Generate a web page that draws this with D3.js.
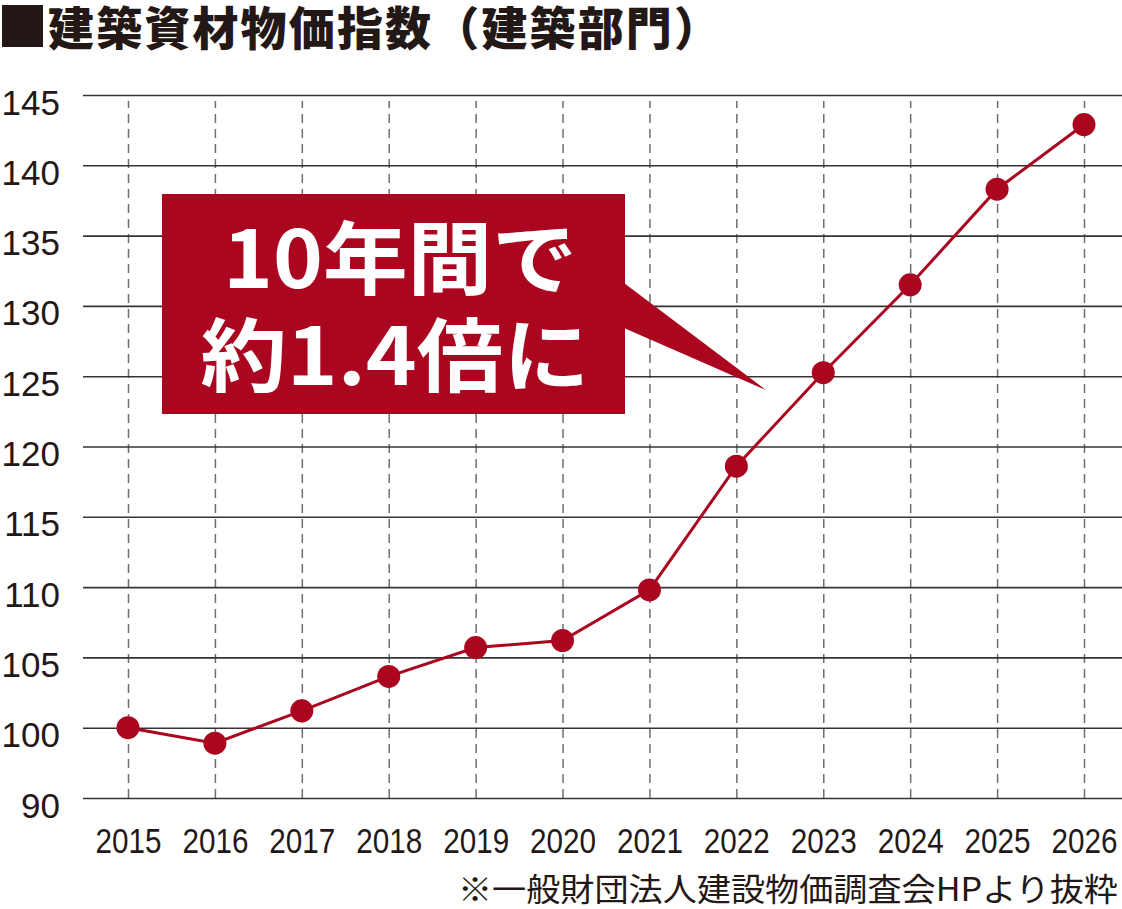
<!DOCTYPE html>
<html>
<head>
<meta charset="utf-8">
<script src="https://cdn.jsdelivr.net/npm/d3@7"></script>
<style>
  html, body { margin: 0; padding: 0; background: #fff; }
  svg { display: block; }
</style>
</head>
<body>
<div id="chart"></div>
<script>
// data
const years = [2015, 2016, 2017, 2018, 2019, 2020, 2021, 2022, 2023, 2024, 2025, 2026];
const index = [100, 98.9, 101.2, 103.65, 105.7, 106.2, 109.8, 118.6, 125.25, 131.5, 138.3, 142.9];
// the axis is broken below 100: the bottom line stands for 90
const yTicks = [95, 100, 105, 110, 115, 120, 125, 130, 135, 140, 145];
const yTickLabels = ['90', '100', '105', '110', '115', '120', '125', '130', '135', '140', '145'];

const titleText = '建築資材物価指数（建築部門）';
const calloutLines = ['10年間で', '約1.4倍に'];
const sourceText = '※一般財団法人建設物価調査会HPより抜粋';

const W = 1122, H = 909;
const red = '#ab0620', ink = '#231815';
const numFont = '"Liberation Sans", Arial, sans-serif';
const jpFont = '"Noto Sans CJK JP", "Noto Sans", sans-serif';

const plot = { left: 83, right: 1122, top: 95, bottom: 798 };

const y = d3.scaleLinear()
  .domain([95, 145])
  .range([plot.bottom, plot.top]);

const x = d3.scaleLinear()
  .domain([2015, 2026])
  .range([128, 1084]);

const svg = d3.select('#chart').append('svg')
  .attr('width', W)
  .attr('height', H);

// title
svg.append('rect')
  .attr('x', 2)
  .attr('y', 5)
  .attr('width', 41)
  .attr('height', 42)
  .attr('fill', ink);
svg.append('text')
  .attr('x', 48)
  .attr('y', 45)
  .attr('font-family', jpFont)
  .attr('font-weight', 900)
  .attr('font-size', 46)
  .attr('fill', ink)
  .attr('textLength', 672)
  .attr('lengthAdjust', 'spacing')
  .text(titleText);

// vertical dashed grid + year labels
const xAxis = svg.append('g')
  .attr('transform', 'translate(0,' + plot.bottom + ')')
  .call(d3.axisBottom(x)
    .tickValues(years)
    .tickFormat(d3.format('d'))
    .tickSize(-(plot.bottom - 101)));
xAxis.select('.domain').remove();
xAxis.selectAll('line')
  .attr('stroke', '#6e6e6e')
  .attr('stroke-width', 1.5)
  .attr('stroke-dasharray', '9,6');
xAxis.selectAll('text')
  .attr('y', 55)
  .attr('dy', 0)
  .attr('fill', ink)
  .attr('font-family', numFont)
  .attr('font-size', 35)
  .attr('textLength', 66)
  .attr('lengthAdjust', 'spacingAndGlyphs');

// horizontal grid + value labels
const yAxis = svg.append('g')
  .attr('transform', 'translate(' + plot.left + ',0)')
  .call(d3.axisLeft(y)
    .tickValues(yTicks)
    .tickFormat((d, i) => yTickLabels[i])
    .tickSize(-(plot.right - plot.left))
    .tickPadding(23));
yAxis.select('.domain').remove();
yAxis.selectAll('line')
  .attr('stroke', '#3a3232')
  .attr('stroke-width', 1.6);
yAxis.selectAll('text')
  .attr('dy', 0)
  .attr('y', 19)
  .attr('fill', ink)
  .attr('font-family', numFont)
  .attr('font-size', 35);

// callout
const callout = svg.append('g');
callout.append('rect')
  .attr('x', 162)
  .attr('y', 194)
  .attr('width', 463)
  .attr('height', 220)
  .attr('fill', red);
callout.append('path')
  .attr('d', 'M624,283 L766,390 L624,328 Z')
  .attr('fill', red);
callout.selectAll('text')
  .data(calloutLines)
  .enter().append('text')
    .attr('x', (d, i) => i === 0 ? 400 : 395)
    .attr('y', (d, i) => i === 0 ? 288 : 385)
    .attr('text-anchor', 'middle')
    .attr('font-family', jpFont)
    .attr('font-weight', 700)
    .attr('font-size', 80)
    .attr('fill', '#fff')
    .attr('textLength', (d, i) => i === 0 ? 354 : 389)
    .attr('lengthAdjust', 'spacingAndGlyphs')
    .text(d => d);

// series
const pts = years.map((yr, i) => ({ year: yr, value: index[i] }));

svg.append('path')
  .datum(pts)
  .attr('fill', 'none')
  .attr('stroke', red)
  .attr('stroke-width', 3)
  .attr('d', d3.line().x(d => x(d.year)).y(d => y(d.value)));

svg.selectAll('circle.dot')
  .data(pts)
  .enter().append('circle')
    .attr('class', 'dot')
    .attr('cx', d => x(d.year))
    .attr('cy', d => y(d.value))
    .attr('r', 11.5)
    .attr('fill', red);

// source note
svg.append('text')
  .attr('x', 1118)
  .attr('y', 901)
  .attr('text-anchor', 'end')
  .attr('font-family', jpFont)
  .attr('font-size', 32)
  .attr('fill', ink)
  .attr('textLength', 660)
  .attr('lengthAdjust', 'spacingAndGlyphs')
  .text(sourceText);
</script>
</body>
</html>
